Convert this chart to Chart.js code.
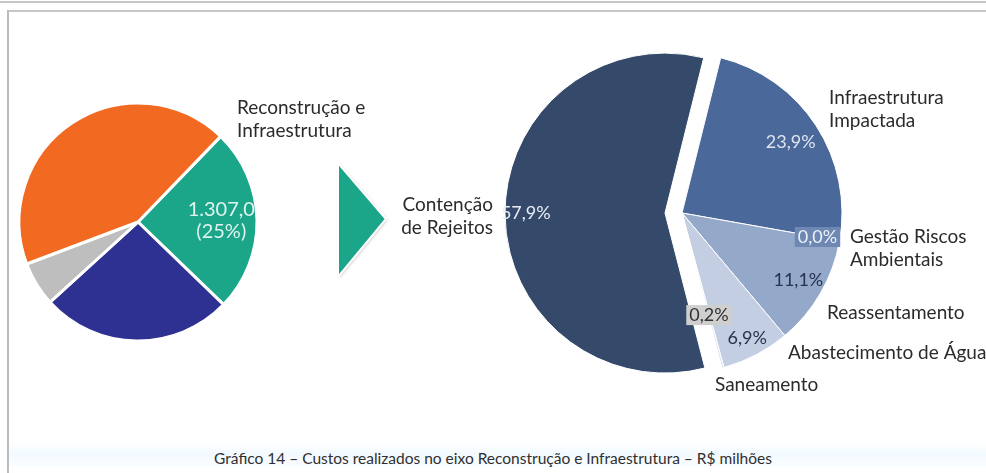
<!DOCTYPE html>
<html lang="pt-BR">
<head>
<meta charset="utf-8">
<script src="https://cdn.jsdelivr.net/npm/chart.js@4.4.1/dist/chart.umd.min.js"></script>
<style>
    html, body { margin: 0; overflow: hidden; }
    body { width: 986px; height: 473px; position: relative; background: #fff; font-family: Lato, sans-serif; }
    canvas { position: absolute; left: 0; top: 0; }
    .rule-top { position: absolute; left: 0; top: 1px; width: 1000px; height: 2px; background: #c6c6c6; }
    .frame-top { position: absolute; left: 7px; top: 10px; width: 1000px; height: 2px; background: #c6c6c6; }
    .frame-left { position: absolute; left: 7px; top: 10px; width: 2px; height: 463px; background: #bcbcbc; }
    .band { position: absolute; left: 9px; top: 443px; width: 1000px; height: 24px; background: linear-gradient(#fefefe, #f2faff 45%, #fbfdff); }
    .caption { position: absolute; left: 0; top: 449px; width: 986px; text-align: center; font-size: 15.5px; color: #2f2f2f; }
</style>
</head>
<body>
<div class="rule-top"></div>
<div class="frame-top"></div>
<div class="frame-left"></div>
<div class="band"></div>
<div class="caption">Gráfico 14 – Custos realizados no eixo Reconstrução e Infraestrutura – R$ milhões</div>
<canvas id="eixoChart" width="986" height="473"></canvas>
<canvas id="obrasChart" width="986" height="473"></canvas>
<script>
// custos por eixo (R$ milhões)
const eixoLabels = [['Reconstrução e', 'Infraestrutura'], 'Eixo 2', 'Eixo 3', 'Eixo 4'];
const eixoValues = [1307.0, 1360.0, 315.0, 2246.0];
const eixoColors = ['#1ba68a', '#2e3192', '#bebebe', '#f26a21'];

// composição do eixo Reconstrução e Infraestrutura (%)
const obrasLabels = [['Infraestrutura', 'Impactada'], ['Gestão Riscos', 'Ambientais'], 'Reassentamento', 'Abastecimento de Água', 'Saneamento', ['Contenção', 'de Rejeitos']];
const obrasValues = [23.9, 0.0, 11.1, 6.9, 0.2, 57.9];
const obrasColors = ['#4a6899', '#5a77a8', '#94a8ca', '#c3cee2', '#dbe2ee', '#354a6b'];

const pct = v => v.toFixed(1).replace('.', ',') + '%';

// desloca fatias para fora (a opção offset do Chart.js v4 também aumenta o raio)
const explode = {
    id: 'explode',
    afterDatasetsUpdate(chart, args, opts) {
        const arcs = chart.getDatasetMeta(0).data;
        (opts.distance || []).forEach((d, i) => {
            if (!d) return;
            const arc = arcs[i];
            const mid = (arc.startAngle + arc.endAngle) / 2;
            arc.x += Math.cos(mid) * d;
            arc.y += Math.sin(mid) * d;
        });
    }
};

// escreve os rótulos de valor dentro das fatias e os nomes ao redor
const sliceLabels = {
    id: 'sliceLabels',
    afterDatasetsDraw(chart, args, opts) {
        const ctx = chart.ctx;
        const arcs = chart.getDatasetMeta(0).data;
        const cx = arcs[0].x, cy = arcs[0].y;
        ctx.save();
        ctx.textBaseline = 'middle';

        (opts.values || []).forEach((lab, i) => {
            if (!lab) return;
            const arc = arcs[i];
            const mid = (arc.startAngle + arc.endAngle) / 2;
            const dist = arc.outerRadius * lab.r;
            const x = arc.x + Math.cos(mid) * dist;
            const y = arc.y + Math.sin(mid) * dist;
            const lines = lab.text(chart.data.datasets[0].data[i]);
            ctx.font = lab.font;
            ctx.textAlign = 'center';
            const lh = lab.lineHeight || 22;
            const y0 = y - (lines.length - 1) * lh / 2;
            if (lab.bg) {
                const w = Math.max(...lines.map(t => ctx.measureText(t).width)) + 6;
                ctx.fillStyle = lab.bg;
                ctx.fillRect(x - w / 2, y0 - 10, w, lines.length * lh - 2);
            }
            ctx.fillStyle = lab.color;
            lines.forEach((t, k) => ctx.fillText(t, x, y0 + k * lh));
        });

        ctx.font = opts.nameFont;
        ctx.fillStyle = opts.nameColor;
        (opts.names || []).forEach((pos, i) => {
            if (!pos) return;
            let lines = chart.data.labels[i];
            if (!Array.isArray(lines)) lines = [lines];
            ctx.textAlign = pos.align || 'left';
            lines.forEach((t, k) => ctx.fillText(t, cx + pos.dx, cy + pos.dy + k * 23));
        });
        ctx.restore();
    }
};

// seta entre as duas pizzas
const arrowPlugin = {
    id: 'arrow',
    afterDraw(chart) {
        const ctx = chart.ctx;
        ctx.save();
        ctx.beginPath();
        ctx.moveTo(338, 163);
        ctx.lineTo(386, 219);
        ctx.lineTo(338, 277);
        ctx.closePath();
        ctx.shadowColor = 'rgba(80,60,60,0.35)';
        ctx.shadowBlur = 3;
        ctx.shadowOffsetX = 1;
        ctx.shadowOffsetY = 1;
        ctx.fillStyle = '#1ba68a';
        ctx.fill();
        ctx.shadowColor = 'transparent';
        ctx.lineWidth = 2;
        ctx.strokeStyle = '#ffffff';
        ctx.stroke();
        ctx.restore();
    }
};

const total = eixoValues.reduce((a, b) => a + b, 0);

new Chart(document.getElementById('eixoChart'), {
    type: 'pie',
    data: {
        labels: eixoLabels,
        datasets: [{
            data: eixoValues,
            backgroundColor: eixoColors,
            borderColor: '#ffffff',
            borderWidth: 3
        }]
    },
    options: {
        responsive: false,
        animation: false,
        radius: 119,
        rotation: 44,
        layout: { padding: { left: 0, top: 0, right: 710, bottom: 29 } },
        events: [],
        plugins: {
            legend: { display: false },
            tooltip: { enabled: false },
            sliceLabels: {
                nameFont: '19px Lato',
                nameColor: '#2b2b2b',
                names: [{ dx: 99, dy: -114 }],
                values: [{
                    r: 0.7,
                    font: '20px Lato',
                    color: '#dff3ee',
                    lineHeight: 22,
                    text: v => [v.toLocaleString('pt-BR', { minimumFractionDigits: 1 }), '(' + Math.round(v / total * 100) + '%)']
                }]
            }
        }
    },
    plugins: [sliceLabels, arrowPlugin]
});

new Chart(document.getElementById('obrasChart'), {
    type: 'pie',
    data: {
        labels: obrasLabels,
        datasets: [{
            data: obrasValues,
            backgroundColor: obrasColors,
            borderColor: '#ffffff',
            borderWidth: 1
        }]
    },
    options: {
        responsive: false,
        animation: false,
        radius: 160,
        rotation: 14,
        layout: { padding: { left: 378, top: 0, right: 0, bottom: 47 } },
        events: [],
        plugins: {
            legend: { display: false },
            tooltip: { enabled: false },
            explode: { distance: [0, 0, 0, 0, 0, 17] },
            sliceLabels: {
                nameFont: '19px Lato',
                nameColor: '#2b2b2b',
                names: [
                    { dx: 147, dy: -115 },
                    { dx: 168, dy: 24 },
                    { dx: 145, dy: 100 },
                    { dx: 106, dy: 140 },
                    { dx: 33, dy: 172 },
                    { dx: -189, dy: -8, align: 'right' }
                ],
                values: [
                    { r: 0.81, font: '18px Lato', color: '#dde4f0', text: v => [pct(v)] },
                    { r: 0.86, font: '18px Lato', color: '#eef2f9', bg: '#6e88b3', text: v => [pct(v)] },
                    { r: 0.84, font: '18px Lato', color: '#26344d', text: v => [pct(v)] },
                    { r: 0.88, font: '18px Lato', color: '#26344d', text: v => [pct(v)] },
                    { r: 0.66, font: '18px Lato', color: '#333333', bg: '#cfcfcf', text: v => [pct(v)] },
                    { r: 0.87, font: '18px Lato', color: '#e8edf5', text: v => [pct(v)] }
                ]
            }
        }
    },
    plugins: [explode, sliceLabels]
});
</script>
</body>
</html>
